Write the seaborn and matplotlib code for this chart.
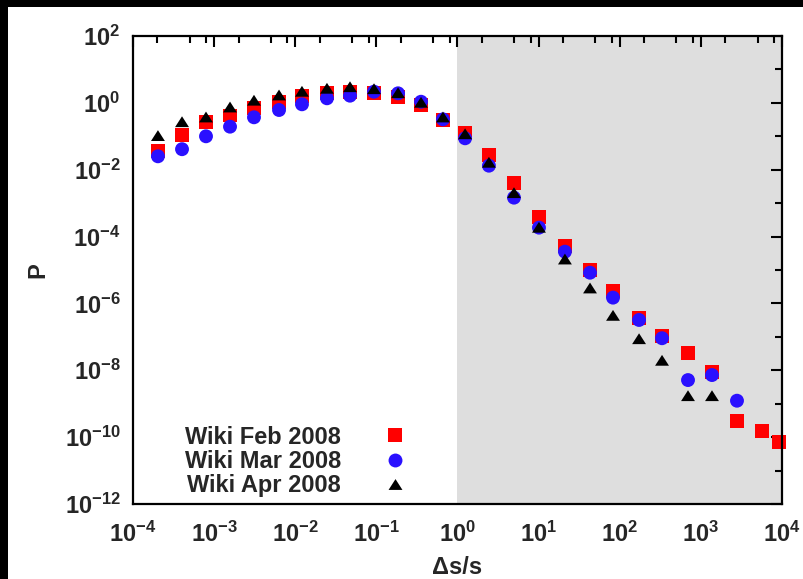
import matplotlib
matplotlib.use("Agg")
import matplotlib.pyplot as plt
import numpy as np
import pandas as pd
import seaborn as sns
from matplotlib.patches import Rectangle
from matplotlib.ticker import LogLocator, LogFormatterSciNotation, NullFormatter

# bin centres (ds/s)
x_bins = [2.03e-4, 4.02e-4, 7.94e-4, 1.57e-3, 3.10e-3, 6.31e-3, 1.21e-2, 2.46e-2,
          4.73e-2, 9.35e-2, 0.185, 0.355, 0.662, 1.24, 2.44, 4.97, 10.1, 21.1,
          43.0, 82.6, 173, 332, 694, 1371, 2787, 5662, 9185]

p_feb = [0.0371, 0.112, 0.262, 0.419, 0.687, 1.05, 1.57, 1.93, 2.07, 1.93, 1.50,
         0.863, 0.307, 0.123, 0.0276, 4.0e-3, 3.85e-4, 5.1e-5, 1.02e-5, 2.36e-6,
         3.6e-7, 1.04e-7, 3.36e-8, 9.1e-9, 2.98e-10, 1.50e-10, 7.0e-11]
p_mar = [0.0252, 0.0411, 0.100, 0.194, 0.370, 0.611, 0.906, 1.37, 1.64, 2.16, 1.93,
         1.08, 0.322, 0.0871, 0.0132, 1.46e-3, 1.85e-4, 3.53e-5, 8.3e-6, 1.49e-6,
         3.2e-7, 9.1e-8, 5.1e-9, 7.2e-9, 1.23e-9]
p_apr = [0.105, 0.273, 0.378, 0.752, 1.20, 1.72, 2.22, 2.73, 3.04, 2.65, 2.01,
         1.04, 0.378, 0.119, 0.0167, 2.06e-3, 1.90e-4, 2.13e-5, 2.9e-6, 4.4e-7,
         8.8e-8, 1.99e-8, 1.74e-9, 1.74e-9]

series = ["Wiki Feb 2008", "Wiki Mar 2008", "Wiki Apr 2008"]

# decade exponents for the ticks
x_decades = list(range(-4, 5))
y_major_decades = list(range(-12, 3, 2))
y_minor_decades = list(range(-11, 2, 2))

df = pd.concat([
    pd.DataFrame({"x": x_bins[:len(p)], "p": p, "set": name})
    for name, p in zip(series, [p_feb, p_mar, p_apr])
], ignore_index=True)

sns.set_style("white")
plt.rcParams["font.family"] = ["Liberation Sans", "DejaVu Sans"]
plt.rcParams["font.weight"] = "bold"
plt.rcParams["axes.labelweight"] = "bold"
plt.rcParams["mathtext.fontset"] = "custom"
plt.rcParams["mathtext.rm"] = "Liberation Sans:bold"
plt.rcParams["mathtext.it"] = "Liberation Sans:bold"
plt.rcParams["mathtext.bf"] = "Liberation Sans:bold"

fig = plt.figure(figsize=(8.04, 5.79), dpi=100, facecolor="black")
fig.patches.append(Rectangle((8 / 804, 0), 1, 1 - 7 / 579, transform=fig.transFigure,
                             facecolor="white", edgecolor="none", zorder=-10))
ax = fig.add_axes([133 / 804, 75 / 579, 649 / 804, 468 / 579])
ax.set_facecolor("white")

# shaded region beyond ds/s = 1
ax.axvspan(1, 1e4, color="#dedede", zorder=0, lw=0)

tri = [(-1.0, -0.78), (1.0, -0.78), (0.0, 0.78)]
palette = {series[0]: "#ff0000", series[1]: "#2a10ff", series[2]: "#000000"}
markers = {series[0]: "s", series[1]: "o", series[2]: tri}

sns.scatterplot(data=df, x="x", y="p", hue="set", style="set", palette=palette,
                markers=markers, s=100, linewidth=0, ax=ax, zorder=3, clip_on=False)

ax.set_xscale("log")
ax.set_yscale("log")
ax.set_xlim(1e-4, 1e4)
ax.set_ylim(1e-12, 1e2)

ax.set_xticks([10.0 ** k for k in x_decades])
ax.xaxis.set_minor_locator(LogLocator(base=10, subs=(2, 5, 8), numticks=20))
ax.xaxis.set_minor_formatter(NullFormatter())
ax.set_yticks([10.0 ** k for k in y_major_decades])
ax.set_yticks([10.0 ** k for k in y_minor_decades], minor=True)
ax.yaxis.set_major_formatter(LogFormatterSciNotation(base=10))
ax.xaxis.set_major_formatter(LogFormatterSciNotation(base=10))
ax.yaxis.set_minor_formatter(NullFormatter())

ax.tick_params(which="both", direction="in", top=True, right=True, width=1.5,
               labelsize=17, color="black")
ax.tick_params(which="major", length=8)
ax.tick_params(axis="y", which="major", pad=9)
ax.tick_params(axis="x", which="major", pad=13)
ax.tick_params(which="minor", length=5)
for sp in ax.spines.values():
    sp.set_linewidth(1.6)
    sp.set_color("black")
    sp.set_zorder(4)

ax.set_xlabel("Δs/s", fontsize=17, labelpad=6)
ax.set_ylabel("P", fontsize=17, labelpad=11)

handles, labels = ax.get_legend_handles_labels()
ax.legend(handles, labels, loc="center", bbox_to_anchor=(0.251, 0.091),
          frameon=False, markerfirst=False, handlelength=1.0, handletextpad=1.8,
          labelspacing=0.05, borderpad=0, fontsize=17)

fig.savefig("out.png", dpi=100, facecolor="black")
